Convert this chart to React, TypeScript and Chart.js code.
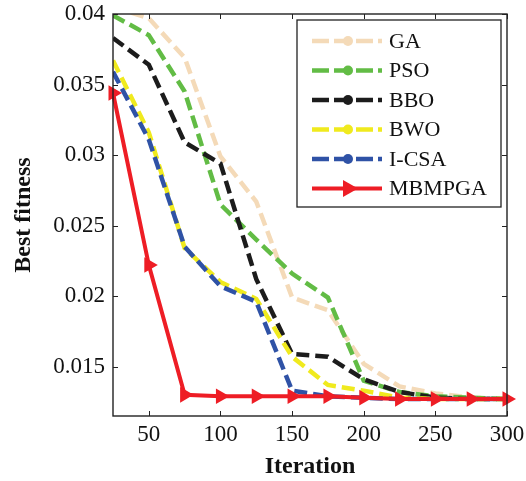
import React, { useEffect, useRef } from "react";
import { Chart, registerables } from "chart.js";

Chart.register(...registerables);

const iterations = [25, 50, 75, 100, 125, 150, 175, 200, 225, 250, 275, 300];
const gaValues = [0.0405, 0.0397, 0.0369, 0.0299, 0.0267, 0.0199, 0.019, 0.0152, 0.0136, 0.0131, 0.0128, 0.0127];
const psoValues = [0.0399, 0.0385, 0.0345, 0.0265, 0.024, 0.0216, 0.0199, 0.014, 0.0132, 0.0129, 0.0128, 0.0127];
const bboValues = [0.0383, 0.0364, 0.0309, 0.0294, 0.0212, 0.0159, 0.0157, 0.0141, 0.0132, 0.0128, 0.0127, 0.0127];
const bwoValues = [0.0367, 0.0316, 0.0234, 0.021, 0.0198, 0.0157, 0.0137, 0.0133, 0.0128, 0.0127, 0.0127, 0.0127];
const icsaValues = [0.0359, 0.0311, 0.0235, 0.0207, 0.0196, 0.0133, 0.0129, 0.0128, 0.0127, 0.0127, 0.0127, 0.0127];
const mbmpgaValues = [0.0344, 0.0222, 0.013, 0.0129, 0.0129, 0.0129, 0.0129, 0.0128, 0.0127, 0.0127, 0.0127, 0.0127];

const xTicks = [50, 100, 150, 200, 250, 300];
const yTicks = [0.015, 0.02, 0.025, 0.03, 0.035, 0.04];
const yTickLabels = ["0.015", "0.02", "0.025", "0.03", "0.035", "0.04"];

const FONT = "'Liberation Serif', 'Times New Roman', serif";

const framePlugin = {
  id: "frameTicks",
  afterDraw(chart: any) {
    const { ctx, chartArea } = chart;
    const { left, right, top, bottom } = chartArea;
    const xs = chart.scales.x;
    const ys = chart.scales.y;
    ctx.save();
    ctx.strokeStyle = "#222";
    ctx.lineWidth = 1.4;
    ctx.setLineDash([]);
    ctx.strokeRect(left, top, right - left, bottom - top);
    ctx.lineWidth = 1;
    const tl = 5;
    ctx.beginPath();
    xTicks.forEach((v) => {
      const px = Math.round(xs.getPixelForValue(v)) + 0.5;
      ctx.moveTo(px, bottom);
      ctx.lineTo(px, bottom - tl);
      ctx.moveTo(px, top);
      ctx.lineTo(px, top + tl);
    });
    yTicks.forEach((v) => {
      const py = Math.round(ys.getPixelForValue(v)) + 0.5;
      ctx.moveTo(left, py);
      ctx.lineTo(left + tl, py);
      ctx.moveTo(right, py);
      ctx.lineTo(right - tl, py);
    });
    ctx.stroke();
    ctx.restore();
  },
};

const legendPlugin = {
  id: "boxLegend",
  afterDatasetsDraw(chart: any) {
    const { ctx, chartArea } = chart;
    const datasets = chart.data.datasets;
    const bw = 204;
    const bh = 187;
    const bx = chartArea.right - 6 - bw;
    const by = chartArea.top + 6;
    ctx.save();
    ctx.fillStyle = "#fff";
    ctx.fillRect(bx, by, bw, bh);
    ctx.strokeStyle = "#222";
    ctx.lineWidth = 1.3;
    ctx.setLineDash([]);
    ctx.strokeRect(bx, by, bw, bh);
    datasets.forEach((ds: any, i: number) => {
      const y = by + 21 + i * 29.5;
      const x0 = bx + 15;
      const x1 = bx + 85;
      const xm = bx + 51;
      ctx.strokeStyle = ds.borderColor;
      ctx.lineWidth = ds.borderWidth;
      ctx.setLineDash(ds.borderDash ? [17, 5] : []);
      ctx.beginPath();
      ctx.moveTo(x0, y);
      ctx.lineTo(x1, y);
      ctx.stroke();
      ctx.setLineDash([]);
      ctx.fillStyle = ds.borderColor;
      ctx.beginPath();
      if (ds.pointStyle === "triangle") {
        ctx.moveTo(xm + 10, y);
        ctx.lineTo(xm - 5, y - 8.5);
        ctx.lineTo(xm - 5, y + 8.5);
        ctx.closePath();
      } else {
        ctx.arc(xm, y, 5, 0, Math.PI * 2);
      }
      ctx.fill();
      ctx.fillStyle = "#111";
      ctx.font = `22px ${FONT}`;
      ctx.textBaseline = "middle";
      ctx.textAlign = "left";
      ctx.fillText(ds.label, bx + 92, y + 1);
    });
    ctx.restore();
  },
};

function makeDashed(label: string, data: number[], color: string, order: number) {
  return {
    label,
    data: iterations.map((x, i) => ({ x, y: data[i] })),
    borderColor: color,
    backgroundColor: color,
    borderWidth: 4.5,
    borderDash: [13, 6],
    pointRadius: 0,
    fill: false,
    tension: 0,
    order,
  };
}

export default function App() {
  const canvasRef = useRef<HTMLCanvasElement | null>(null);

  useEffect(() => {
    document.body.style.margin = "0";
    const canvas = canvasRef.current;
    if (!canvas) return;
    const chart = new Chart(canvas, {
      type: "line",
      data: {
        datasets: [
          makeDashed("GA", gaValues, "#F4DAB8", 6),
          makeDashed("PSO", psoValues, "#62BC45", 5),
          makeDashed("BBO", bboValues, "#1C1C1C", 4),
          makeDashed("BWO", bwoValues, "#F0EA1E", 3),
          makeDashed("I-CSA", icsaValues, "#2F52A6", 2),
          {
            label: "MBMPGA",
            data: iterations.map((x, i) => ({ x, y: mbmpgaValues[i] })),
            borderColor: "#EE1D25",
            backgroundColor: "#EE1D25",
            borderWidth: 4,
            pointStyle: "triangle",
            rotation: 90,
            pointRadius: 9,
            pointBorderWidth: 0,
            pointBackgroundColor: "#EE1D25",
            fill: false,
            tension: 0,
            clip: false,
            order: 1,
          } as any,
        ],
      },
      options: {
        animation: false,
        responsive: false,
        devicePixelRatio: 1,
        layout: { padding: { left: 0, right: 19, top: 14, bottom: 0 } },
        plugins: {
          legend: { display: false },
          tooltip: { enabled: false },
        },
        scales: {
          x: {
            type: "linear",
            min: 25,
            max: 300,
            afterBuildTicks: (s: any) => {
              s.ticks = xTicks.map((v) => ({ value: v }));
            },
            afterFit: (s: any) => {
              s.height = 65;
              s.paddingLeft = 0;
              s.paddingRight = 0;
            },
            grid: { display: false, drawTicks: false },
            border: { display: false },
            ticks: {
              color: "#111",
              padding: 5,
              maxRotation: 0,
              autoSkip: false,
              font: { family: FONT, size: 23 },
              callback: (v: any) => String(v),
            },
            title: {
              display: true,
              text: "Iteration",
              color: "#111",
              padding: { top: 0, bottom: 0 },
              font: { family: FONT, size: 24, weight: "bold" },
            },
          },
          y: {
            type: "linear",
            min: 0.0115,
            max: 0.04,
            afterBuildTicks: (s: any) => {
              s.ticks = yTicks.map((v) => ({ value: v }));
            },
            afterFit: (s: any) => {
              s.width = 113;
              s.paddingTop = 0;
              s.paddingBottom = 0;
            },
            grid: { display: false, drawTicks: false },
            border: { display: false },
            ticks: {
              color: "#111",
              padding: 8,
              autoSkip: false,
              font: { family: FONT, size: 23 },
              callback: (v: any) => {
                const idx = yTicks.findIndex((t) => Math.abs(t - v) < 1e-9);
                return idx >= 0 ? yTickLabels[idx] : "";
              },
            },
            title: {
              display: true,
              text: "Best fitness",
              color: "#111",
              padding: { top: 9, bottom: 0 },
              font: { family: FONT, size: 24, weight: "bold" },
            },
          },
        },
      },
      plugins: [legendPlugin, framePlugin],
    });
    return () => chart.destroy();
  }, []);

  return (
    <div style={{ width: 526, height: 481 }}>
      <canvas ref={canvasRef} width={526} height={481} style={{ display: "block" }} />
    </div>
  );
}
